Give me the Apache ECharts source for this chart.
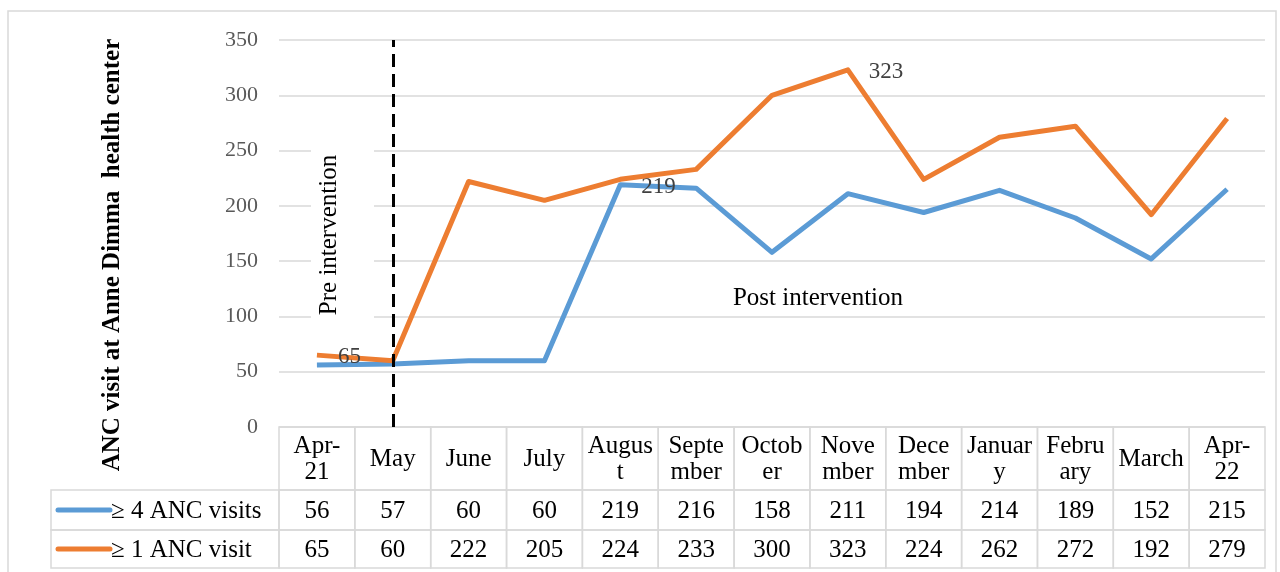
<!DOCTYPE html>
<html>
<head>
<meta charset="utf-8">
<script src="https://cdn.jsdelivr.net/npm/echarts@6/dist/echarts.min.js"></script>
<style>
  html, body { margin: 0; padding: 0; background: #fff; }
  #chart { width: 1280px; height: 572px; }
</style>
</head>
<body>
<div id="chart"></div>
<script>
// 月份
const months = ['Apr-21', 'May', 'June', 'July', 'August', 'September', 'October', 'November', 'December', 'January', 'February', 'March', 'Apr-22']
// 表头文字（按原图换行）
const headerLabels = ['Apr-\n21', 'May', 'June', 'July', 'Augus\nt', 'Septe\nmber', 'Octob\ner', 'Nove\nmber', 'Dece\nmber', 'Januar\ny', 'Febru\nary', 'March', 'Apr-\n22']
// 两条线的数据
const visits4 = [56, 57, 60, 60, 219, 216, 158, 211, 194, 214, 189, 152, 215]
const visits1 = [65, 60, 222, 205, 224, 233, 300, 323, 224, 262, 272, 192, 279]
const seriesNames = ['≥ 4 ANC visits', '≥ 1 ANC visit']
const seriesColors = ['#5B9BD5', '#ED7D31']
// 带标签的点（下标）
const labelled4 = [4]
const labelled1 = [0, 7]
// y轴刻度
const yMin = 0
const yMax = 350
const yStep = 50

const FONT = 'Liberation Serif'
const myChart = echarts.init(document.querySelector('#chart'))

// 表格单元格：[列, 行, 文字, 是否图例]
const cells = []
months.forEach((m, i) => {
  cells.push([i, 0, headerLabels[i], 0])
  cells.push([i, 1, String(visits4[i]), 0])
  cells.push([i, 2, String(visits1[i]), 0])
})
cells.push([0, 1, seriesNames[0], 1])
cells.push([0, 2, seriesNames[1], 1])

const rowTop = [0, 63, 103]
const rowH = [63, 40, 38]

function renderCell(params, api) {
  const cell = cells[params.dataIndex]
  const sys = params.coordSys
  const row = cell[1]
  const y = sys.y + rowTop[row]
  const h = rowH[row]
  const border = { fill: 'none', stroke: '#d9d9d9', lineWidth: 1.5 }
  if (cell[3]) {
    // 图例单元格
    const x0 = 51
    const cy = y + h / 2
    return {
      type: 'group',
      children: [
        { type: 'rect', shape: { x: x0, y: y, width: sys.x - x0, height: h }, style: border },
        { type: 'line', shape: { x1: 58, y1: cy, x2: 110, y2: cy },
          style: { stroke: seriesColors[row - 1], lineWidth: 5, lineCap: 'round' } },
        { type: 'text', style: { text: cell[2], x: 111, y: cy + 1, align: 'left', verticalAlign: 'middle',
          font: '25px "' + FONT + '"', fill: '#000' } }
      ]
    }
  }
  const cx = api.coord([cell[0], 0])[0]
  const w = api.size([1, 0])[0]
  return {
    type: 'group',
    children: [
      { type: 'rect', shape: { x: cx - w / 2, y: y, width: w, height: h }, style: border },
      { type: 'text', style: { text: cell[2], x: cx, y: y + h / 2 + 1, align: 'center', verticalAlign: 'middle',
        font: '25px "' + FONT + '"', lineHeight: 26, fill: '#000' } }
    ]
  }
}

const lineLabel = { position: 'right', distance: 21, offset: [0, 2], color: '#404040', fontFamily: FONT, fontSize: 23 }

const option = {
  animation: false,
  backgroundColor: '#fff',
  grid: [
    { left: 279, right: 15, top: 40, bottom: 145 },
    { left: 279, right: 15, top: 427, height: 141 }
  ],
  xAxis: [
    {
      type: 'category',
      data: months,
      boundaryGap: true,
      axisLine: { show: false },
      axisTick: { show: false },
      axisLabel: { show: false }
    },
    {
      type: 'category',
      gridIndex: 1,
      data: months,
      boundaryGap: true,
      show: false
    }
  ],
  yAxis: [
    {
      type: 'value',
      min: yMin,
      max: yMax,
      interval: yStep,
      axisLine: { show: false },
      axisTick: { show: false },
      axisLabel: { color: '#595959', fontFamily: FONT, fontSize: 22, margin: 21 },
      splitLine: { lineStyle: { color: '#d9d9d9', width: 1.5 } }
    },
    {
      type: 'value',
      gridIndex: 1,
      min: 0,
      max: 1,
      show: false
    }
  ],
  series: [
    {
      name: seriesNames[0],
      type: 'line',
      data: visits4.map((v, i) => labelled4.includes(i) ? { value: v, label: { show: true } } : v),
      symbol: 'circle',
      symbolSize: 0,
      showSymbol: true,
      lineStyle: { width: 5, color: seriesColors[0], join: 'round' },
      itemStyle: { color: seriesColors[0] },
      label: lineLabel,
      z: 3
    },
    {
      name: seriesNames[1],
      type: 'line',
      data: visits1.map((v, i) => labelled1.includes(i) ? { value: v, label: { show: true } } : v),
      symbol: 'circle',
      symbolSize: 0,
      showSymbol: true,
      lineStyle: { width: 5, color: seriesColors[1], join: 'round' },
      itemStyle: { color: seriesColors[1] },
      label: lineLabel,
      markLine: {
        silent: true,
        symbol: 'none',
        label: { show: false },
        lineStyle: { color: '#000', type: [13, 7], width: 3 },
        data: [{ xAxis: 'May' }]
      },
      z: 4
    },
    {
      type: 'custom',
      xAxisIndex: 1,
      yAxisIndex: 1,
      clip: false,
      silent: true,
      renderItem: renderCell,
      data: cells.map(c => [c[0], 0])
    }
  ],
  graphic: [
    // 外框
    { type: 'rect', z: -10, shape: { x: 8, y: 11, width: 1268, height: 570 },
      style: { fill: 'none', stroke: '#d9d9d9', lineWidth: 1.5 } },
    // y轴标题
    { type: 'text', x: 113, y: 255, rotation: Math.PI / 2, z: 5,
      style: { text: 'ANC visit at Anne Dimma  health center', align: 'center', verticalAlign: 'middle',
        font: 'bold 25px "' + FONT + '"', fill: '#000' } },
    // Pre intervention 白底
    { type: 'rect', z: 1, shape: { x: 311, y: 138, width: 63, height: 205 }, style: { fill: '#fff' } },
    { type: 'text', x: 329, y: 235, rotation: Math.PI / 2, z: 5,
      style: { text: 'Pre intervention', align: 'center', verticalAlign: 'middle',
        font: '25px "' + FONT + '"', fill: '#000' } },
    { type: 'text', x: 818, y: 298, z: 5,
      style: { text: 'Post intervention', align: 'center', verticalAlign: 'middle',
        font: '25px "' + FONT + '"', fill: '#000' } }
  ]
}

myChart.setOption(option)
</script>
</body>
</html>
